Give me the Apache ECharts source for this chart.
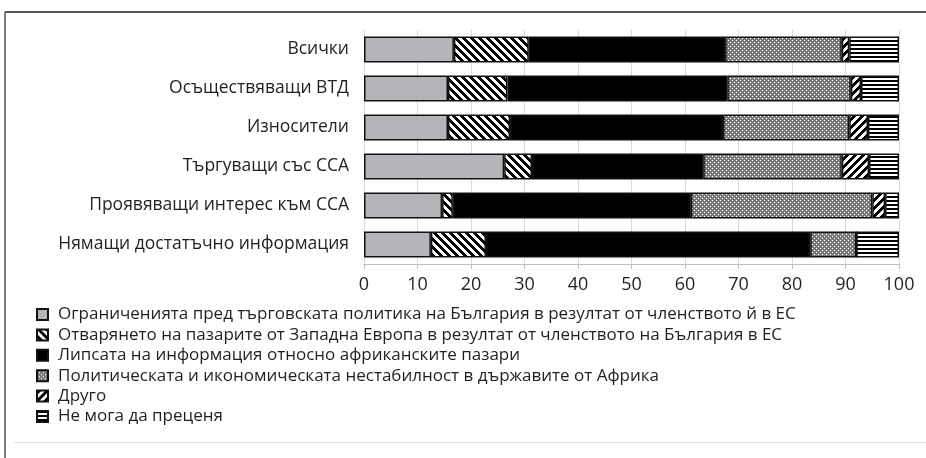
<!DOCTYPE html>
<html>
<head>
<meta charset="utf-8">
<script src="https://cdn.jsdelivr.net/npm/echarts@6/dist/echarts.min.js"></script>
<style>
  html, body { margin: 0; padding: 0; background: #fff; }
  #chart { width: 926px; height: 458px; }
</style>
</head>
<body>
<div id="chart"></div>
<script>
// categories, top to bottom
var categories = [
  'Всички',
  'Осъществяващи ВТД',
  'Износители',
  'Търгуващи със ССА',
  'Проявяващи интерес към ССА',
  'Нямащи достатъчно информация'
]

var seriesNames = [
  'Ограниченията пред търговската политика на България в резултат от членството й в ЕС',
  'Отварянето на пазарите от Западна Европа в резултат от членството на България в ЕС',
  'Липсата на информация относно африканските пазари',
  'Политическата и икономическата нестабилност в държавите от Африка',
  'Друго',
  'Не мога да преценя'
]

// percentages per category (same order as categories)
var restrictions = [16.8, 15.7, 15.7, 26.2, 14.6, 12.5]
var westOpening = [14.0, 11.1, 11.6, 5.2, 2.0, 10.3]
var noInfo = [36.7, 41.1, 39.8, 32.0, 44.5, 60.6]
var instability = [21.8, 23.1, 23.6, 25.9, 33.9, 8.6]
var other = [1.4, 1.9, 3.5, 5.1, 2.4, 0]
var cannotSay = [9.3, 7.1, 5.8, 5.6, 2.6, 8.0]

var xTicks = [0, 10, 20, 30, 40, 50, 60, 70, 80, 90, 100]

function tile (size, paint) {
  var c = document.createElement('canvas')
  c.width = size
  c.height = size
  var ctx = c.getContext('2d')
  var img = ctx.createImageData(size, size)
  for (var y = 0; y < size; y++) {
    for (var x = 0; x < size; x++) {
      var v = paint(x, y)
      var i = (y * size + x) * 4
      img.data[i] = v; img.data[i + 1] = v; img.data[i + 2] = v; img.data[i + 3] = 255
    }
  }
  ctx.putImageData(img, 0, 0)
  return { image: c, repeat: 'repeat' }
}

var backHatch = tile(8, function (x, y) { return ((x - y + 16) % 8) < 4 ? 0 : 255 })
var fwdHatch = tile(8, function (x, y) { return ((x + y) % 8) < 4 ? 0 : 255 })
var horizLines = tile(4, function (x, y) { return (y % 4) < 2 ? 0 : 255 })
var dots = tile(4, function (x, y) {
  if ((x === 0 && y === 0) || (x === 2 && y === 2)) return 255
  if ((x + y) % 2 === 1) return 150
  return 95
})

var fills = ['#b3b5b8', backHatch, '#000000', dots, fwdHatch, horizLines]
var values = [restrictions, westOpening, noInfo, instability, other, cannotSay]

var series = seriesNames.map(function (name, i) {
  return {
    name: name,
    type: 'bar',
    stack: 'total',
    barCategoryGap: '33%',
    data: values[i].slice().reverse(),
    itemStyle: {
      color: fills[i],
      borderColor: '#111',
      borderWidth: 1.5
    }
  }
})

var chart = echarts.init(document.getElementById('chart'))
chart.setOption({
  animation: false,
  backgroundColor: '#fff',
  textStyle: { fontFamily: 'Open Sans' },
  grid: { left: 364, right: 27, top: 30, height: 234 },
  xAxis: {
    type: 'value',
    min: 0,
    max: 100,
    interval: 10,
    axisLine: { show: true, lineStyle: { color: '#bfbfbf', width: 1 } },
    axisTick: { show: true, length: 5, lineStyle: { color: '#bfbfbf' } },
    axisLabel: {
      color: '#231f20',
      fontSize: 18,
      margin: 12,
      formatter: function (v) { return xTicks.indexOf(v) >= 0 ? String(v) : '' }
    },
    splitLine: { show: true, lineStyle: { color: '#d9d9d9', width: 1 } }
  },
  yAxis: {
    type: 'category',
    data: categories.slice().reverse(),
    axisLine: { show: false },
    axisTick: { show: false },
    axisLabel: { color: '#231f20', fontSize: 17.5, margin: 15 }
  },
  legend: {
    orient: 'vertical',
    left: 31,
    top: 301,
    icon: 'rect',
    itemWidth: 11,
    itemHeight: 11,
    itemGap: 3.4,
    textStyle: { color: '#231f20', fontSize: 17, lineHeight: 14, padding: [0, 0, 0, 5] },
    data: seriesNames
  },
  graphic: [
    { type: 'line', shape: { x1: 5, y1: 12, x2: 926, y2: 12 }, style: { stroke: '#555', lineWidth: 2 } },
    { type: 'line', shape: { x1: 5, y1: 12, x2: 5, y2: 458 }, style: { stroke: '#555', lineWidth: 1.5 } },
    { type: 'line', shape: { x1: 14, y1: 442.5, x2: 926, y2: 442.5 }, style: { stroke: '#e0e0e0', lineWidth: 1 } }
  ],
  series: series
})
</script>
</body>
</html>
